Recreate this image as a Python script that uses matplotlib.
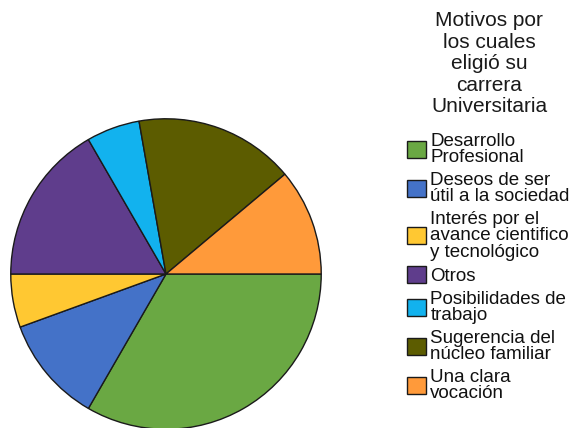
import matplotlib.pyplot as plt

plt.rcParams['font.family'] = ['Liberation Sans', 'DejaVu Sans']

# datos del grafico
motivos = [
    "Desarrollo\nProfesional",
    "Deseos de ser\nútil a la sociedad",
    "Interés por el\navance cientifico\ny tecnológico",
    "Otros",
    "Posibilidades de\ntrabajo",
    "Sugerencia del\nnúcleo familiar",
    "Una clara\nvocación",
]
respuestas = [6, 2, 1, 3, 1, 3, 2]
colores = ["#6aa843", "#4472c8", "#ffc832", "#5f3d8c", "#12b2ee", "#5c5c00", "#ff9a3a"]
titulo = "Motivos por\nlos cuales\neligió su\ncarrera\nUniversitaria"

W, H = 569, 428
fig = plt.figure(figsize=(W / 100, H / 100), dpi=100)

# pie: centro (166, 274), radio 156 px
cx, cy, r = 166, 274, 156
ax = fig.add_axes([(cx - r) / W, (H - cy - r) / H, 2 * r / W, 2 * r / H])
wedges, _ = ax.pie(respuestas, colors=colores, startangle=0, counterclock=False,
                   wedgeprops=dict(edgecolor="#1a1a1a", linewidth=1.0))
ax.set_xlim(-1.005, 1.005)
ax.set_ylim(-1.005, 1.005)
ax.set_aspect("equal")
ax.axis("off")

fig.text(489 / W, 1 - 11 / H, titulo, ha="center", va="top", fontsize=15,
         linespacing=1.17, color="#1a1a1a")

leg = fig.legend(wedges, motivos, loc="upper left",
                 bbox_to_anchor=(407 / W, 1 - 133 / H), frameon=False,
                 fontsize=13.5, borderpad=0, borderaxespad=0, handlelength=1.0,
                 handleheight=1.0, handletextpad=0.25, labelspacing=0.3)
for t in leg.get_texts():
    t.set_linespacing(0.95)
    t.set_color("#111111")

fig.savefig("out.png", dpi=100)
